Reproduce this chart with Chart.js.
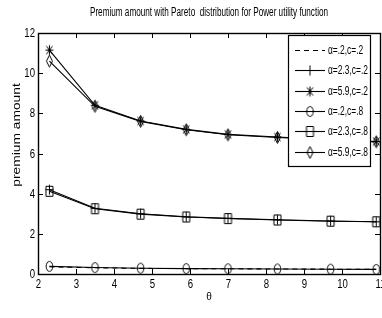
<!DOCTYPE html>
<html>
<head>
<meta charset="utf-8">
<script src="https://cdn.jsdelivr.net/npm/chart.js@4"></script>
<style>
  html, body { margin: 0; padding: 0; background: #fff; }
  #wrap { width: 382px; height: 318px; }
</style>
</head>
<body>
<div id="wrap"><canvas id="chart" width="382" height="318"></canvas></div>
<script>
// theta values
const theta = [2.3, 3.5, 4.7, 5.9, 7.0, 8.3, 9.7, 10.9];

// premium amount for each (alpha, c) pair
const a02c02 = [0.36, 0.31, 0.28, 0.27, 0.26, 0.25, 0.24, 0.23];
const a23c02 = [4.20, 3.27, 3.00, 2.85, 2.77, 2.70, 2.64, 2.60];
const a59c02 = [11.15, 8.40, 7.62, 7.20, 6.95, 6.82, 6.70, 6.60];
const a02c08 = [0.38, 0.32, 0.29, 0.27, 0.26, 0.25, 0.24, 0.23];
const a23c08 = [4.12, 3.25, 2.98, 2.84, 2.76, 2.69, 2.63, 2.60];
const a59c08 = [10.60, 8.35, 7.60, 7.18, 6.93, 6.80, 6.68, 6.58];

const seriesLabels = ['α=.2,c=.2', 'α=2.3,c=.2', 'α=5.9,c=.2', 'α=.2,c=.8', 'α=2.3,c=.8', 'α=5.9,c=.8'];
const xTicks = [2, 3, 4, 5, 6, 7, 8, 9, 10, 11];
const yTicks = [0, 2, 4, 6, 8, 10, 12];

const SANS = "'Liberation Sans', Arial, sans-serif";

// markers are a bit taller than wide in the original figure, so draw them on small canvases
function makeMarker(kind) {
    const c = document.createElement('canvas');
    c.width = 11; c.height = 15;
    const g = c.getContext('2d');
    g.strokeStyle = '#000';
    g.lineWidth = 1;
    g.beginPath();
    if (kind === 'circle') {
        g.ellipse(5.5, 7.5, 3.3, 5, 0, 0, Math.PI * 2);
    } else if (kind === 'square') {
        g.rect(2, 2.5, 7, 10);
    } else if (kind === 'diamond') {
        g.moveTo(5.5, 1.5); g.lineTo(8.5, 7.5); g.lineTo(5.5, 13.5); g.lineTo(2.5, 7.5); g.closePath();
    } else if (kind === 'plus') {
        g.moveTo(1.5, 7.5); g.lineTo(9.5, 7.5);
        g.moveTo(5.5, 2.5); g.lineTo(5.5, 12.5);
    } else if (kind === 'star') {
        g.moveTo(1.5, 7.5); g.lineTo(9.5, 7.5);
        g.moveTo(5.5, 2.5); g.lineTo(5.5, 12.5);
        g.moveTo(2.5, 3.5); g.lineTo(8.5, 11.5);
        g.moveTo(8.5, 3.5); g.lineTo(2.5, 11.5);
    }
    g.stroke();
    return c;
}

function pts(vals) {
    return vals.map((v, i) => ({ x: theta[i], y: v }));
}

function series(label, vals, marker, dash) {
    return {
        label: label,
        data: pts(vals),
        borderColor: '#000',
        borderWidth: 1.1,
        borderDash: dash || [],
        pointStyle: marker ? makeMarker(marker) : false,
        pointRadius: marker ? 5 : 0,
        showLine: true,
        fill: false
    };
}

const datasets = [
    series(seriesLabels[0], a02c02, null, [5, 4]),
    series(seriesLabels[1], a23c02, 'plus'),
    series(seriesLabels[2], a59c02, 'star'),
    series(seriesLabels[3], a02c08, 'circle'),
    series(seriesLabels[4], a23c08, 'square'),
    series(seriesLabels[5], a59c08, 'diamond')
];

// condensed text, the figure uses a narrow face
function narrowText(ctx, text, x, y, size, sx, align) {
    ctx.save();
    ctx.translate(x, y);
    ctx.scale(sx, 1);
    ctx.font = size + 'px ' + SANS;
    ctx.textAlign = align;
    ctx.textBaseline = 'middle';
    ctx.fillStyle = '#000';
    ctx.fillText(text, 0, 0);
    ctx.restore();
}

// frame, inward ticks on all sides, tick labels, title and legend box (matlab look)
const matlabFrame = {
    id: 'matlabFrame',
    afterDraw(chart) {
        const ctx = chart.ctx;
        const a = chart.chartArea;
        const xs = chart.scales.x, ys = chart.scales.y;
        ctx.save();
        ctx.strokeStyle = '#000';
        ctx.lineWidth = 1;
        ctx.beginPath();
        xTicks.forEach(t => {
            const px = Math.round(xs.getPixelForValue(t)) + 0.5;
            ctx.moveTo(px, a.bottom); ctx.lineTo(px, a.bottom - 5);
            ctx.moveTo(px, a.top); ctx.lineTo(px, a.top + 5);
            narrowText(ctx, String(t), px, a.bottom + 11, 12, 0.8, 'center');
        });
        yTicks.forEach(t => {
            const py = Math.round(ys.getPixelForValue(t)) + 0.5;
            ctx.moveTo(a.left, py); ctx.lineTo(a.left + 5, py);
            ctx.moveTo(a.right, py); ctx.lineTo(a.right - 5, py);
            narrowText(ctx, String(t), a.left - 3, py, 12, 0.8, 'right');
        });
        ctx.stroke();
        ctx.lineWidth = 1.4;
        ctx.strokeRect(Math.round(a.left) + 0.5, Math.round(a.top) + 0.5,
            Math.round(a.right - a.left), Math.round(a.bottom - a.top));

        // title
        narrowText(ctx, 'Premium amount with Pareto  distribution for Power utility function',
            (a.left + a.right) / 2, 13, 12, 0.68, 'center');

        // y axis title, stretched along its length like the original
        ctx.save();
        ctx.translate(17, 135);
        ctx.rotate(-Math.PI / 2);
        ctx.scale(1.38, 1);
        ctx.font = '10px ' + SANS;
        ctx.textAlign = 'center';
        ctx.textBaseline = 'middle';
        ctx.fillStyle = '#000';
        ctx.fillText('premium amount', 0, 0);
        ctx.restore();

        // legend
        const lx = 288, ly = 35, lw = 82, lh = 131;
        ctx.fillStyle = '#fff';
        ctx.fillRect(lx, ly, lw, lh);
        ctx.lineWidth = 1.2;
        ctx.strokeStyle = '#000';
        ctx.strokeRect(lx + 0.5, ly + 0.5, lw, lh);
        chart.data.datasets.forEach((ds, i) => {
            const y = Math.round(ly + 15 + i * 20.3) + 0.5;
            ctx.lineWidth = 1.1;
            ctx.setLineDash(ds.borderDash);
            ctx.beginPath();
            ctx.moveTo(295, y); ctx.lineTo(325, y);
            ctx.stroke();
            ctx.setLineDash([]);
            if (ds.pointStyle) {
                const m = ds.pointStyle;
                ctx.drawImage(m, 310 - m.width / 2, y - m.height / 2);
            }
            narrowText(ctx, ds.label, 328, y, 12, 0.7, 'left');
        });
        ctx.restore();
    }
};

new Chart(document.getElementById('chart'), {
    type: 'scatter',
    data: { datasets: datasets },
    options: {
        responsive: false,
        animation: false,
        layout: { autoPadding: false, padding: { top: 33, right: 2, left: 0, bottom: 0 } },
        plugins: { legend: { display: false }, tooltip: { enabled: false }, title: { display: false } },
        scales: {
            x: {
                type: 'linear',
                min: 2, max: 11,
                afterFit(s) { s.height = 44; s.paddingLeft = 0; s.paddingRight = 0; },
                grid: { display: false },
                border: { display: false },
                ticks: { display: false },
                title: { display: true, text: 'θ', color: '#000', padding: { top: 0, bottom: 15 }, font: { family: SANS, size: 10 } }
            },
            y: {
                min: 0, max: 12,
                afterFit(s) { s.width = 38; s.paddingTop = 0; s.paddingBottom = 0; },
                grid: { display: false },
                border: { display: false },
                ticks: { display: false }
            }
        }
    },
    plugins: [matlabFrame]
});
</script>
</body>
</html>
